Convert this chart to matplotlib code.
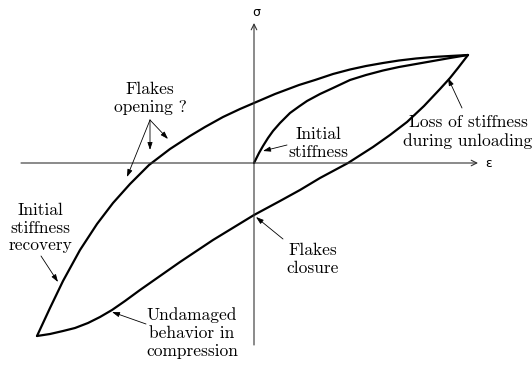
import matplotlib
matplotlib.use("Agg")
import matplotlib.pyplot as plt

# reloading branch (from max compression up to max tension)
eps_reload = [-4.34, -4.08, -3.82, -3.48, -3.14, -2.82, -2.48, -2.10, -1.68, -1.28, -0.98,
              -0.62, -0.28, 0.0, 0.42, 0.90, 1.22, 1.58, 1.92, 2.24, 2.58, 2.90, 3.24,
              3.58, 3.92, 4.28]
sig_reload = [-3.46, -2.90, -2.36, -1.74, -1.22, -0.80, -0.42, -0.04, 0.28, 0.54, 0.72,
              0.92, 1.08, 1.20, 1.38, 1.56, 1.66, 1.78, 1.87, 1.94, 2.00, 2.05, 2.09,
              2.12, 2.14, 2.16]

# first loading from origin
eps_first = [0.0, 0.04, 0.10, 0.18, 0.28, 0.38, 0.52, 0.72, 0.90, 1.06, 1.32, 1.58, 1.92,
             2.24, 2.58, 2.90, 3.24, 3.58, 3.92, 4.28]
sig_first = [0.0, 0.08, 0.20, 0.34, 0.50, 0.64, 0.80, 1.00, 1.13, 1.24, 1.38, 1.50, 1.66,
             1.76, 1.85, 1.92, 1.98, 2.04, 2.10, 2.16]

# unloading down to compression
eps_unload = [4.28, 4.08, 3.92, 3.72, 3.40, 3.06, 2.72, 2.38, 1.88, 1.32, 0.92, 0.52, 0.0,
              -0.82, -1.48, -2.28, -2.58, -2.84, -3.08, -3.32, -3.58, -3.82, -4.08, -4.34]
sig_unload = [2.16, 1.90, 1.70, 1.48, 1.14, 0.82, 0.56, 0.32, 0.0, -0.30, -0.54, -0.76,
              -1.04, -1.54, -1.98, -2.54, -2.76, -2.94, -3.08, -3.20, -3.30, -3.36, -3.42,
              -3.46]

serif = "cmr10"
fs = 12.5

fig = plt.figure(figsize=(5.32, 3.65), dpi=100)
ax = fig.add_axes([0, 0, 1, 1])
ax.set_xlim(-5.08, 5.56)
ax.set_ylim(-4.04, 3.26)
ax.axis("off")

# axes with arrows
ax.annotate("", xy=(4.48, 0), xytext=(-4.66, 0),
            arrowprops=dict(arrowstyle="->", lw=0.8, color="#333333", shrinkA=0, shrinkB=0))
ax.annotate("", xy=(0, 2.80), xytext=(0, -3.64),
            arrowprops=dict(arrowstyle="->", lw=0.8, color="#333333", shrinkA=0, shrinkB=0))
ax.text(4.70, 0, "ε", ha="center", va="center", fontsize=9, family="DejaVu Sans")
ax.text(0.04, 3.02, "σ", ha="center", va="center", fontsize=9, family="DejaVu Sans")

for e, s in [(eps_reload, sig_reload), (eps_first, sig_first), (eps_unload, sig_unload)]:
    ax.plot(e, s, color="black", lw=1.6, solid_joinstyle="round", solid_capstyle="round")

arr = dict(arrowstyle="-|>,head_length=0.45,head_width=0.15", lw=0.6, color="black",
           shrinkA=0, shrinkB=0)

ax.text(-2.08, 1.30, "Flakes\nopening ?", ha="center", va="center", fontsize=fs,
        family=serif, multialignment="center")
for tip in [(-2.54, -0.28), (-2.08, 0.26), (-1.72, 0.48)]:
    ax.annotate("", xy=tip, xytext=(-2.08, 0.86), arrowprops=arr)

ax.text(1.28, 0.40, "Initial\nstiffness", ha="center", va="center", fontsize=fs,
        family=serif, multialignment="center")
ax.annotate("", xy=(0.18, 0.24), xytext=(0.66, 0.36), arrowprops=arr)

ax.text(4.28, 0.62, "Loss of stiffness\nduring unloading", ha="center", va="center",
        fontsize=fs, family=serif, multialignment="center")
ax.annotate("", xy=(3.88, 1.70), xytext=(4.16, 1.10), arrowprops=arr)

ax.text(1.18, -1.92, "Flakes\nclosure", ha="center", va="center", fontsize=fs,
        family=serif, multialignment="center")
ax.annotate("", xy=(0.04, -1.08), xytext=(0.58, -1.52), arrowprops=arr)

ax.text(-4.28, -1.30, "Initial\nstiffness\nrecovery", ha="center", va="center",
        fontsize=fs, family=serif, multialignment="center")
ax.annotate("", xy=(-3.92, -2.38), xytext=(-4.26, -1.86), arrowprops=arr)

ax.text(-1.24, -3.40, "Undamaged\nbehavior in\ncompression", ha="center", va="center",
        fontsize=fs, family=serif, multialignment="center")
ax.annotate("", xy=(-2.84, -2.98), xytext=(-2.16, -3.22), arrowprops=arr)

fig.savefig("out.png", dpi=100)
